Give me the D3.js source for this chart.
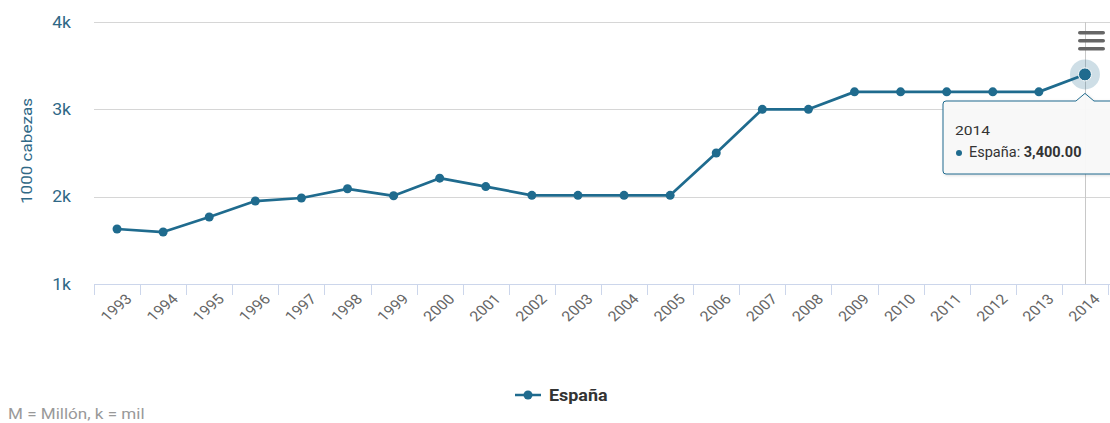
<!DOCTYPE html>
<html>
<head>
<meta charset="utf-8">
<script src="https://cdn.jsdelivr.net/npm/d3@7"></script>
<style>
  html, body { margin: 0; padding: 0; background: #fff; }
  svg { display: block; font-family: Roboto, "Noto Sans", sans-serif; }
</style>
</head>
<body>
<svg id="chart" width="1110" height="423"></svg>
<script>
// Cabaña (miles de cabezas), España 1993–2014
const years = ["1993","1994","1995","1996","1997","1998","1999","2000","2001","2002","2003",
               "2004","2005","2006","2007","2008","2009","2010","2011","2012","2013","2014"];
const espana = [1630, 1595, 1767, 1950, 1985, 2090, 2010, 2212, 2115, 2015, 2015,
                2015, 2015, 2500, 3000, 3000, 3200, 3200, 3200, 3200, 3200, 3400];
const yTicks = [1000, 2000, 3000, 4000];
const seriesName = "España";
const highlighted = "2014";

const color = "#1f6b8e";
const wide = 1.22;            // horizontal text widening used throughout the chart
const svg = d3.select("#chart");

const plot = { left: 94, right: 1108, top: 22, bottom: 284 };

const x = d3.scaleBand().domain(years).range([plot.left, plot.right]);
const y = d3.scaleLinear().domain([1000, 4000]).range([plot.bottom, plot.top]);
const cx = d => x(d) + x.bandwidth() / 2;

// horizontal grid lines
svg.append("g")
  .selectAll("line")
  .data(yTicks.slice(1))
  .join("line")
  .attr("x1", plot.left).attr("x2", plot.right + 2)
  .attr("y1", d => Math.round(y(d)) + 0.5).attr("y2", d => Math.round(y(d)) + 0.5)
  .attr("stroke", "#d6d6d6").attr("stroke-width", 1);

// y axis labels
svg.append("g")
  .selectAll("text")
  .data(yTicks)
  .join("text")
  .attr("transform", d => `translate(71,${y(d)}) scale(1.1,1)`)
  .attr("text-anchor", "end")
  .attr("dy", "0.36em")
  .attr("fill", "#2f6886").attr("font-size", 16)
  .text(d => (d / 1000) + "k");

// y axis title
svg.append("text")
  .attr("transform", `translate(32,${(plot.top + plot.bottom) / 2 - 2}) rotate(-90) scale(${wide},1)`)
  .attr("text-anchor", "middle")
  .attr("fill", "#2f6886").attr("font-size", 14)
  .text("1000 cabezas");

// x axis: baseline, ticks on band edges, rotated labels
const xg = svg.append("g");
xg.append("line")
  .attr("x1", plot.left).attr("x2", plot.right + 2)
  .attr("y1", plot.bottom + 0.5).attr("y2", plot.bottom + 0.5)
  .attr("stroke", "#ccd6eb");
const edges = years.map(d => x(d)).concat([x(years[years.length - 1]) + x.bandwidth()]);
xg.selectAll("line.tick")
  .data(edges)
  .join("line").attr("class", "tick")
  .attr("x1", d => Math.round(d) + 0.5).attr("x2", d => Math.round(d) + 0.5)
  .attr("y1", plot.bottom).attr("y2", plot.bottom + 11)
  .attr("stroke", "#ccd6eb");
xg.selectAll("text")
  .data(years)
  .join("text")
  .attr("transform", d => `translate(${cx(d) + 8},${plot.bottom + 9}) scale(1.15,1) rotate(-45)`)
  .attr("text-anchor", "end")
  .attr("dy", "0.7em")
  .attr("fill", "#666").attr("font-size", 14)
  .text(d => d);

// crosshair on the highlighted year
svg.append("line")
  .attr("x1", Math.round(cx(highlighted)) + 0.5).attr("x2", Math.round(cx(highlighted)) + 0.5)
  .attr("y1", plot.top).attr("y2", plot.bottom)
  .attr("stroke", "#c8c8c8").attr("stroke-width", 1);

// series line
const line = d3.line().x((d, i) => cx(years[i])).y(d => y(d));
svg.append("path")
  .datum(espana)
  .attr("d", line)
  .attr("fill", "none")
  .attr("stroke", color).attr("stroke-width", 2.7)
  .attr("stroke-linejoin", "round");

// hover halo
const hi = years.indexOf(highlighted);
svg.append("circle")
  .attr("cx", cx(highlighted)).attr("cy", y(espana[hi]))
  .attr("r", 15).attr("fill", color).attr("fill-opacity", 0.22);

// markers
svg.append("g")
  .selectAll("circle")
  .data(espana)
  .join("circle")
  .attr("cx", (d, i) => cx(years[i]))
  .attr("cy", d => y(d))
  .attr("r", (d, i) => i === hi ? 6.5 : 4.5)
  .attr("fill", color)
  .attr("stroke", (d, i) => i === hi ? "#fff" : "none")
  .attr("stroke-width", 1);

// context menu icon
const menu = svg.append("g").attr("transform", "translate(1078,31)");
[0, 8, 16].forEach(o => menu.append("rect")
  .attr("x", 0).attr("y", o).attr("width", 27).attr("height", 3.5).attr("rx", 1.75)
  .attr("fill", "#666"));

// tooltip
const defs = svg.append("defs");
const f = defs.append("filter").attr("id", "shadow").attr("x", "-10%").attr("y", "-10%")
  .attr("width", "130%").attr("height", "140%");
f.append("feDropShadow").attr("dx", 1).attr("dy", 1).attr("stdDeviation", 1.5)
  .attr("flood-color", "#000").attr("flood-opacity", 0.15);

const px = cx(highlighted);
const tip = { left: 943, top: 101, right: 1130, bottom: 174 };
const tipPath = `M${tip.left + 3},${tip.top} L${px - 9},${tip.top} L${px},${y(espana[hi]) + 19} ` +
  `L${px + 9},${tip.top} L${tip.right},${tip.top} L${tip.right},${tip.bottom} ` +
  `L${tip.left + 3},${tip.bottom} Q${tip.left},${tip.bottom} ${tip.left},${tip.bottom - 3} ` +
  `L${tip.left},${tip.top + 3} Q${tip.left},${tip.top} ${tip.left + 3},${tip.top} Z`;
svg.append("path")
  .attr("d", tipPath)
  .attr("fill", "rgba(249,249,249,0.95)")
  .attr("stroke", color).attr("stroke-width", 1)
  .attr("filter", "url(#shadow)");
svg.append("text")
  .attr("transform", `translate(955,135) scale(1.2,1)`)
  .attr("fill", "#333").attr("font-size", 13)
  .text(highlighted);
svg.append("circle").attr("cx", 959).attr("cy", 153).attr("r", 3).attr("fill", color);
const tt = svg.append("text").attr("x", 969).attr("y", 157)
  .attr("fill", "#333").attr("font-size", 14.5);
tt.append("tspan").text(seriesName + ": ");
tt.append("tspan").attr("font-weight", "bold").text(d3.format(",.2f")(espana[hi]));

// legend
const lg = svg.append("g").attr("transform", "translate(515,395)");
lg.append("line").attr("x1", 0).attr("x2", 26).attr("y1", 0).attr("y2", 0)
  .attr("stroke", color).attr("stroke-width", 2.5);
lg.append("circle").attr("cx", 13).attr("cy", 0).attr("r", 4.5).attr("fill", color);
lg.append("text")
  .attr("transform", "translate(34,5.5) scale(1.12,1)")
  .attr("fill", "#333").attr("font-size", 16).attr("font-weight", "bold")
  .text(seriesName);

// credits note
svg.append("text")
  .attr("transform", `translate(8,419) scale(${wide},1)`)
  .attr("fill", "#999").attr("font-size", 14)
  .text("M = Millón, k = mil");
</script>
</body>
</html>
